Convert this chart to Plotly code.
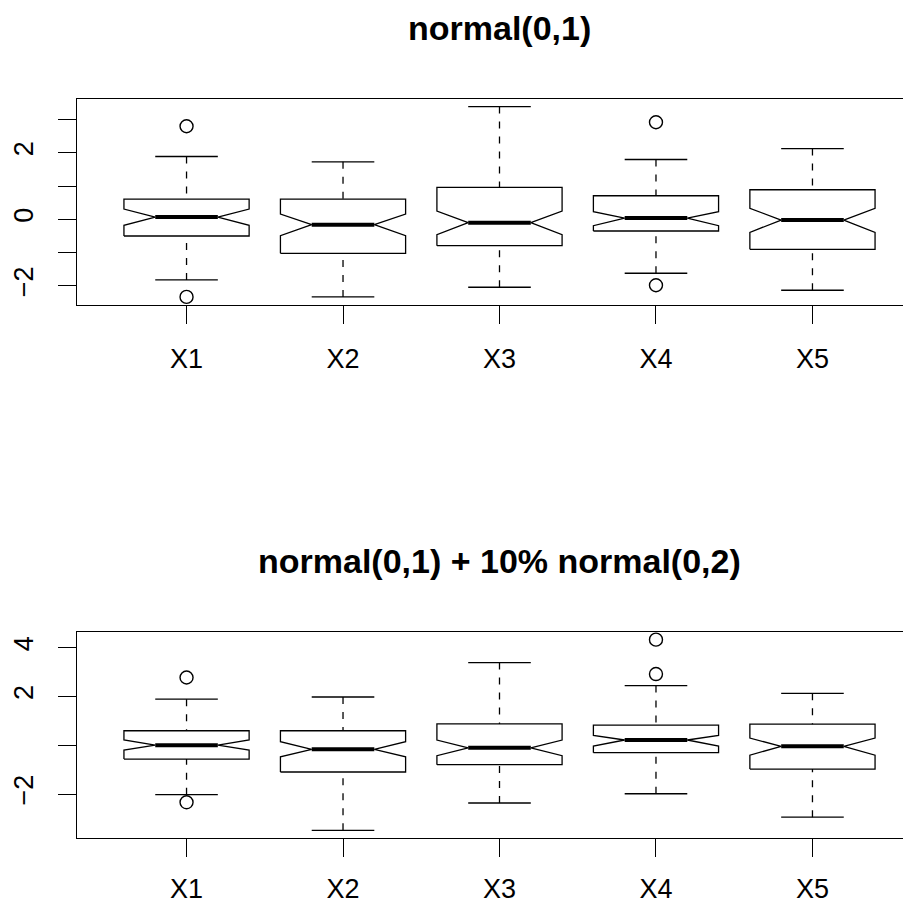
import plotly.graph_objects as go

# ---------------- data ----------------
categories = ["X1", "X2", "X3", "X4", "X5"]

# panel 1: normal(0,1)
p1_title = "normal(0,1)"
p1_q1 = [-0.50, -1.02, -0.79, -0.35, -0.90]
p1_med = [0.07, -0.16, -0.10, 0.04, -0.02]
p1_q3 = [0.61, 0.61, 0.96, 0.71, 0.89]
p1_nlo = [-0.18, -0.49, -0.46, -0.19, -0.39]
p1_nhi = [0.31, 0.16, 0.25, 0.23, 0.33]
p1_wlo = [-1.82, -2.33, -2.04, -1.62, -2.13]
p1_whi = [1.89, 1.73, 3.39, 1.80, 2.13]
p1_out = [[2.80, -2.33], [], [], [2.92, -1.98], []]
p1_ytickvals = [-2, -1, 0, 1, 2, 3]
p1_yticktext = ["\u22122", "", "0", "", "2", ""]

# panel 2: normal(0,1) + 10% normal(0,2)
p2_title = "normal(0,1) + 10% normal(0,2)"
p2_q1 = [-0.56, -1.09, -0.79, -0.30, -0.97]
p2_med = [0.01, -0.16, -0.10, 0.22, -0.04]
p2_q3 = [0.60, 0.60, 0.88, 0.83, 0.87]
p2_nlo = [-0.19, -0.47, -0.42, -0.03, -0.40]
p2_nhi = [0.22, 0.15, 0.22, 0.41, 0.30]
p2_wlo = [-2.02, -3.48, -2.36, -1.98, -2.94]
p2_whi = [1.89, 1.98, 3.39, 2.45, 2.13]
p2_out = [[2.78, -2.33], [], [], [4.33, 2.92], []]
p2_ytickvals = [-2, 0, 2, 4]
p2_yticktext = ["\u22122", "", "2", "4"]

# ---------------- styling constants ----------------
OFF = 8              # default page body margin
W, H = 911 - OFF, 906 - OFF
ML = 77 - OFF
HALF = 0.4          # half box width (boxwex 0.8)
NOTCH = 0.5         # notch indentation fraction
STAPLE = 0.5        # staple width fraction
LW = 1.3
FONT = "Liberation Sans, Arial, Helvetica, sans-serif"
TICKFONT = 27
TITLEFONT = 34

fig = go.Figure()


def add_panel(q1, med, q3, nlo, nhi, wlo, whi, outs, xa, ya):
    bx, by = [], []
    mx, my = [], []
    wx, wy = [], []
    sx, sy = [], []
    ox, oy = [], []
    for i in range(len(categories)):
        c = i + 1
        w = HALF
        xs = [c - w, c + w, c + w, c + w * NOTCH, c + w, c + w, c - w, c - w, c - w * NOTCH, c - w, c - w]
        ys = [q1[i], q1[i], nlo[i], med[i], nhi[i], q3[i], q3[i], nhi[i], med[i], nlo[i], q1[i]]
        bx += xs + [None]
        by += ys + [None]
        mx += [c - w * NOTCH, c + w * NOTCH, None]
        my += [med[i], med[i], None]
        wx += [c, c, None, c, c, None]
        wy += [wlo[i], q1[i], None, whi[i], q3[i], None]
        sx += [c - w * STAPLE, c + w * STAPLE, None, c - w * STAPLE, c + w * STAPLE, None]
        sy += [wlo[i], wlo[i], None, whi[i], whi[i], None]
        for v in outs[i]:
            ox.append(c)
            oy.append(v)
    common = dict(xaxis=xa, yaxis=ya, showlegend=False, hoverinfo="skip")
    fig.add_trace(go.Scatter(x=wx, y=wy, mode="lines",
                             line=dict(color="black", width=LW, dash="7px,8px"), **common))
    fig.add_trace(go.Scatter(x=bx, y=by, mode="lines",
                             line=dict(color="black", width=LW), **common))
    fig.add_trace(go.Scatter(x=sx, y=sy, mode="lines",
                             line=dict(color="black", width=LW), **common))
    fig.add_trace(go.Scatter(x=mx, y=my, mode="lines",
                             line=dict(color="black", width=4), **common))
    fig.add_trace(go.Scatter(x=ox, y=oy, mode="markers",
                             marker=dict(symbol="circle-open", size=13, color="black",
                                         line=dict(width=1.4, color="black")), **common))


add_panel(p1_q1, p1_med, p1_q3, p1_nlo, p1_nhi, p1_wlo, p1_whi, p1_out, "x", "y")
add_panel(p2_q1, p2_med, p2_q3, p2_nlo, p2_nhi, p2_wlo, p2_whi, p2_out, "x2", "y2")


def yrange(wlo, whi, outs):
    vals = list(wlo) + list(whi) + [v for o in outs for v in o]
    lo, hi = min(vals), max(vals)
    pad = 0.04 * (hi - lo)
    return [lo - pad, hi + pad]


# R x-range [0.3, 5.7] over 845 px; only 834 px visible
n = len(categories)
xlo = 0.5 - 0.04 * n
xhi_full = n + 0.5 + 0.04 * n
xhi = xlo + (xhi_full - xlo) * (W - ML) / 845.0

top1, bot1 = 99.0 - OFF, 304.5 - OFF
top2, bot2 = 632.0 - OFF, 838.0 - OFF

xaxis_common = dict(
    range=[xlo, xhi], tickmode="array", tickvals=list(range(1, n + 1)), ticktext=categories,
    showline=True, mirror=True, linecolor="black", linewidth=LW,
    ticks="outside", ticklen=18, tickwidth=LW, tickcolor="black",
    showgrid=False, zeroline=False, tickfont=dict(family=FONT, size=TICKFONT, color="black"),
    fixedrange=True,
)
yaxis_common = dict(
    showline=True, mirror=False, linecolor="black", linewidth=LW,
    ticks="outside", ticklen=18, tickwidth=LW, tickcolor="black",
    showgrid=False, zeroline=False, tickangle=-90,
    tickfont=dict(family=FONT, size=TICKFONT, color="black"),
    ticklabelstandoff=14, fixedrange=True,
)

fig.update_layout(
    width=W, height=H,
    margin=dict(l=ML, r=0, t=0, b=0, autoexpand=False),
    paper_bgcolor="white", plot_bgcolor="white",
    xaxis=dict(domain=[0, 1], anchor="y", ticklabelstandoff=12, **xaxis_common),
    yaxis=dict(domain=[1 - bot1 / H, 1 - top1 / H], anchor="x",
               range=yrange(p1_wlo, p1_whi, p1_out),
               tickmode="array", tickvals=p1_ytickvals, ticktext=p1_yticktext, **yaxis_common),
    xaxis2=dict(domain=[0, 1], anchor="y2", ticklabelstandoff=8, **xaxis_common),
    yaxis2=dict(domain=[1 - bot2 / H, 1 - top2 / H], anchor="x2",
                range=yrange(p2_wlo, p2_whi, p2_out),
                tickmode="array", tickvals=p2_ytickvals, ticktext=p2_yticktext, **yaxis_common),
)

xc = (845.0 / 2) / (W - ML)  # centre of R plot region in paper coords
fig.add_annotation(text="<b>" + p1_title + "</b>", xref="paper", yref="paper",
                   x=xc, y=1 - (28 - OFF) / H, xanchor="center", yanchor="middle", showarrow=False,
                   font=dict(family=FONT, size=TITLEFONT, color="black"))
fig.add_annotation(text="<b>" + p2_title + "</b>", xref="paper", yref="paper",
                   x=xc, y=1 - (561 - OFF) / H, xanchor="center", yanchor="middle", showarrow=False,
                   font=dict(family=FONT, size=TITLEFONT, color="black"))

fig.write_html("out.html", config={"displayModeBar": False})
